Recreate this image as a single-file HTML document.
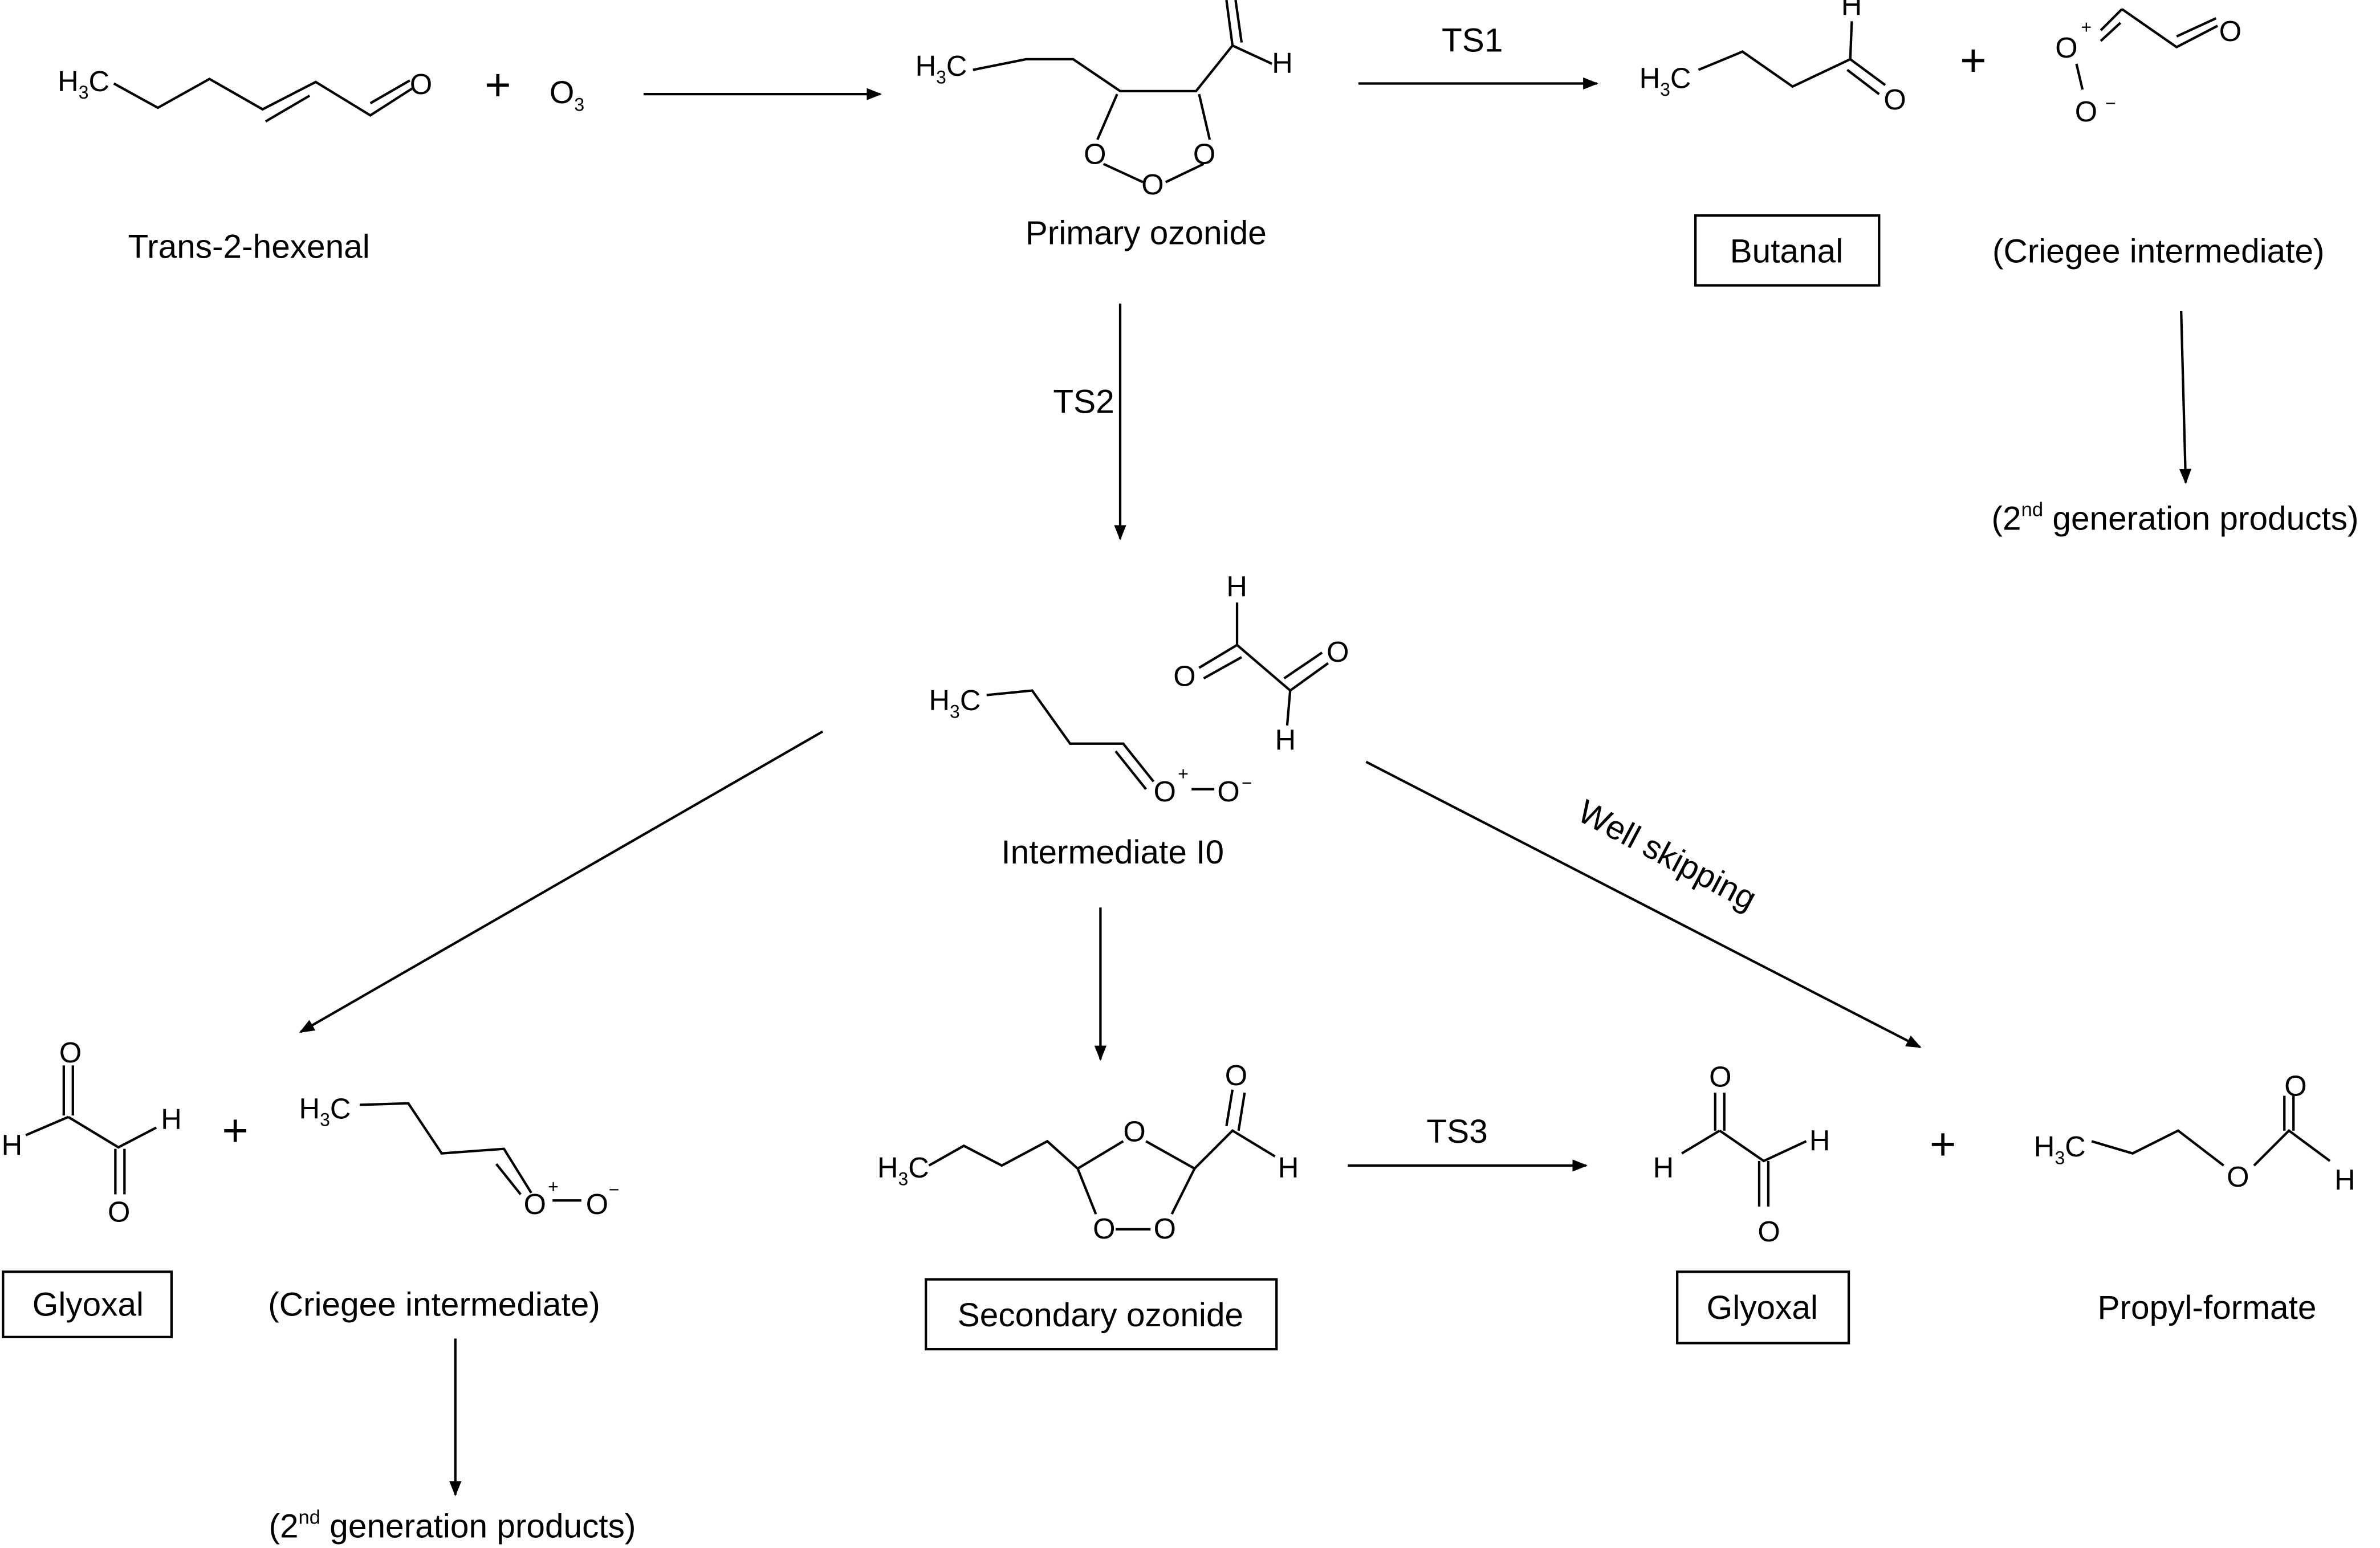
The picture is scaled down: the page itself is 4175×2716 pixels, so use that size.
<!DOCTYPE html>
<html><head><meta charset="utf-8"><style>
html,body{margin:0;padding:0;background:#fff}
svg{display:block}
text{font-family:"Liberation Sans",sans-serif;fill:#000}
.l{font-size:22px}
.a{font-size:19px}
.s{font-size:12px}
</style></head><body>
<svg width="4175" height="2716" viewBox="0 0 1568 1020" xmlns="http://www.w3.org/2000/svg">
<defs><marker id="ar" markerWidth="10" markerHeight="8" refX="9" refY="4" orient="auto" markerUnits="userSpaceOnUse"><path d="M0,0 L10,4 L0,8 Z" fill="#000"/></marker></defs>
<g stroke="#000" stroke-width="1.6" fill="none">
<path d="M75,55 L104,71 L138,52 L173,72 L208,54 L244,76 L272,58"/>
<path d="M175,80 L204,63"/>
<path d="M244,68 L270,53"/>
<path d="M424,62 L580,62" marker-end="url(#ar)"/>
<path d="M641,46 L676,39 L707,39 L738,60 L788,60 L812,30 L838,42"/>
<path d="M812,30 L808,0 M818,28 L814,0"/>
<path d="M736,62 L723,92 M790,62 L797,92 M727,108 L753,120 M793,108 L768,120"/>
<path d="M895,55 L1052,55" marker-end="url(#ar)"/>
<path d="M1119,46 L1148,34 L1181,57 L1219,39 L1220,14"/>
<path d="M1219,39 L1242,56 M1217,46 L1238,62"/>
<path d="M1368,42 L1372,59 M1384,20 L1398,6 M1384,27 L1397,15 M1398,6 L1434,31 L1461,17 M1434,24 L1460,12"/>
<path d="M1437,205 L1440,318" marker-end="url(#ar)"/>
<path d="M738,200 L738,355" marker-end="url(#ar)"/>
<path d="M650,458 L680,455 L705,490 L740,490 L760,515"/>
<path d="M735,495 L755,520"/>
<path d="M785,520 L800,520"/>
<path d="M815,397 L815,425 L850,455 L848,478"/>
<path d="M815,425 L790,440 M818,433 L793,447 M850,455 L875,437 M846,447 L871,430"/>
<path d="M542,482 L198,680" marker-end="url(#ar)"/>
<path d="M725,598 L725,698" marker-end="url(#ar)"/>
<path d="M900,502 L1265,690" marker-end="url(#ar)"/>
<path d="M42,702 L42,735 M48,702 L48,735 M45,736 L17,748 M45,736 L78,756 L103,743 M76,757 L76,787 M82,757 L82,787"/>
<path d="M237,728 L269,727 L291,760 L332,757 L350,786 M327,767 L343,787 M364,791 L383,791"/>
<path d="M300,882 L300,985" marker-end="url(#ar)"/>
<path d="M612,768 L635,755 L660,768 L690,752 L710,770 L740,752 M755,752 L787,770 L812,745 L840,762"/>
<path d="M808,742 L812,718 M816,745 L820,720"/>
<path d="M710,770 L722,800 M787,770 L772,800 M735,810 L758,810"/>
<path d="M888,768 L1045,768" marker-end="url(#ar)"/>
<path d="M1130,720 L1130,745 M1136,720 L1136,745 M1133,745 L1108,760 M1133,745 L1162,765 L1190,752 M1159,765 L1159,795 M1165,765 L1165,795"/>
<path d="M1378,752 L1405,760 L1435,745 L1465,768 M1485,768 L1508,745 L1535,765 M1505,745 L1505,722 M1511,745 L1511,722"/>
<rect x="1117" y="142" width="121" height="46"/>
<rect x="2" y="838" width="111" height="43"/>
<rect x="610" y="843" width="231" height="46"/>
<rect x="1105" y="838" width="113" height="47"/>
</g>
<g class="a">
<text x="38" y="60">H<tspan class="s" dy="5">3</tspan><tspan dy="-5">C</tspan></text>
<text x="270" y="62">O</text>
<text x="603" y="50">H<tspan class="s" dy="5">3</tspan><tspan dy="-5">C</tspan></text>
<text x="838" y="48">H</text>
<text x="714" y="108">O</text>
<text x="786" y="108">O</text>
<text x="752" y="128">O</text>
<text x="1080" y="58">H<tspan class="s" dy="5">3</tspan><tspan dy="-5">C</tspan></text>
<text x="1241" y="72">O</text>
<text x="1213" y="10">H</text>
<text x="1354" y="38">O</text><text x="1371" y="22" class="s">+</text>
<text x="1367" y="80">O</text><text x="1387" y="72" class="s">−</text>
<text x="1462" y="27">O</text>
<text x="612" y="468">H<tspan class="s" dy="5">3</tspan><tspan dy="-5">C</tspan></text>
<text x="760" y="528">O</text><text x="776" y="514" class="s">+</text>
<text x="802" y="528">O</text><text x="818" y="520" class="s">−</text>
<text x="808" y="393">H</text>
<text x="773" y="452">O</text>
<text x="874" y="436">O</text>
<text x="840" y="494">H</text>
<text x="39" y="700">O</text>
<text x="1" y="761">H</text>
<text x="106" y="744">H</text>
<text x="71" y="805">O</text>
<text x="197" y="737">H<tspan class="s" dy="5">3</tspan><tspan dy="-5">C</tspan></text>
<text x="345" y="800">O</text><text x="361" y="786" class="s">+</text>
<text x="386" y="800">O</text><text x="401" y="788" class="s">−</text>
<text x="578" y="776">H<tspan class="s" dy="5">3</tspan><tspan dy="-5">C</tspan></text>
<text x="740" y="752">O</text>
<text x="720" y="816">O</text>
<text x="760" y="816">O</text>
<text x="807" y="715">O</text>
<text x="842" y="776">H</text>
<text x="1126" y="716">O</text>
<text x="1089" y="776">H</text>
<text x="1192" y="758">H</text>
<text x="1158" y="818">O</text>
<text x="1340" y="762">H<tspan class="s" dy="5">3</tspan><tspan dy="-5">C</tspan></text>
<text x="1467" y="782">O</text>
<text x="1505" y="722">O</text>
<text x="1538" y="784">H</text>
<text x="362" y="68" style="font-size:21px">O<tspan class="s" dy="5">3</tspan></text>
</g>
<g class="l">
<text x="328" y="66" text-anchor="middle" style="font-size:30px">+</text>
<text x="1300" y="50" text-anchor="middle" style="font-size:30px">+</text>
<text x="155" y="755" text-anchor="middle" style="font-size:30px">+</text>
<text x="1280" y="764" text-anchor="middle" style="font-size:30px">+</text>
<text x="164" y="170" text-anchor="middle">Trans-2-hexenal</text>
<text x="755" y="161" text-anchor="middle">Primary ozonide</text>
<text x="970" y="34" text-anchor="middle">TS1</text>
<text x="1177" y="173" text-anchor="middle">Butanal</text>
<text x="1422" y="173" text-anchor="middle">(Criegee intermediate)</text>
<text x="1433" y="349" text-anchor="middle">(2<tspan style="font-size:13px" dy="-9">nd</tspan><tspan dy="9"> generation products)</tspan></text>
<text x="714" y="272" text-anchor="middle">TS2</text>
<text x="733" y="569" text-anchor="middle">Intermediate I0</text>
<text x="1095" y="570" text-anchor="middle" transform="rotate(28 1095 570)">Well skipping</text>
<text x="58" y="867" text-anchor="middle">Glyoxal</text>
<text x="286" y="867" text-anchor="middle">(Criegee intermediate)</text>
<text x="298" y="1013" text-anchor="middle">(2<tspan style="font-size:13px" dy="-9">nd</tspan><tspan dy="9"> generation products)</tspan></text>
<text x="725" y="874" text-anchor="middle">Secondary ozonide</text>
<text x="960" y="753" text-anchor="middle">TS3</text>
<text x="1161" y="869" text-anchor="middle">Glyoxal</text>
<text x="1454" y="869" text-anchor="middle">Propyl-formate</text>
</g>
</svg>
</body></html>
